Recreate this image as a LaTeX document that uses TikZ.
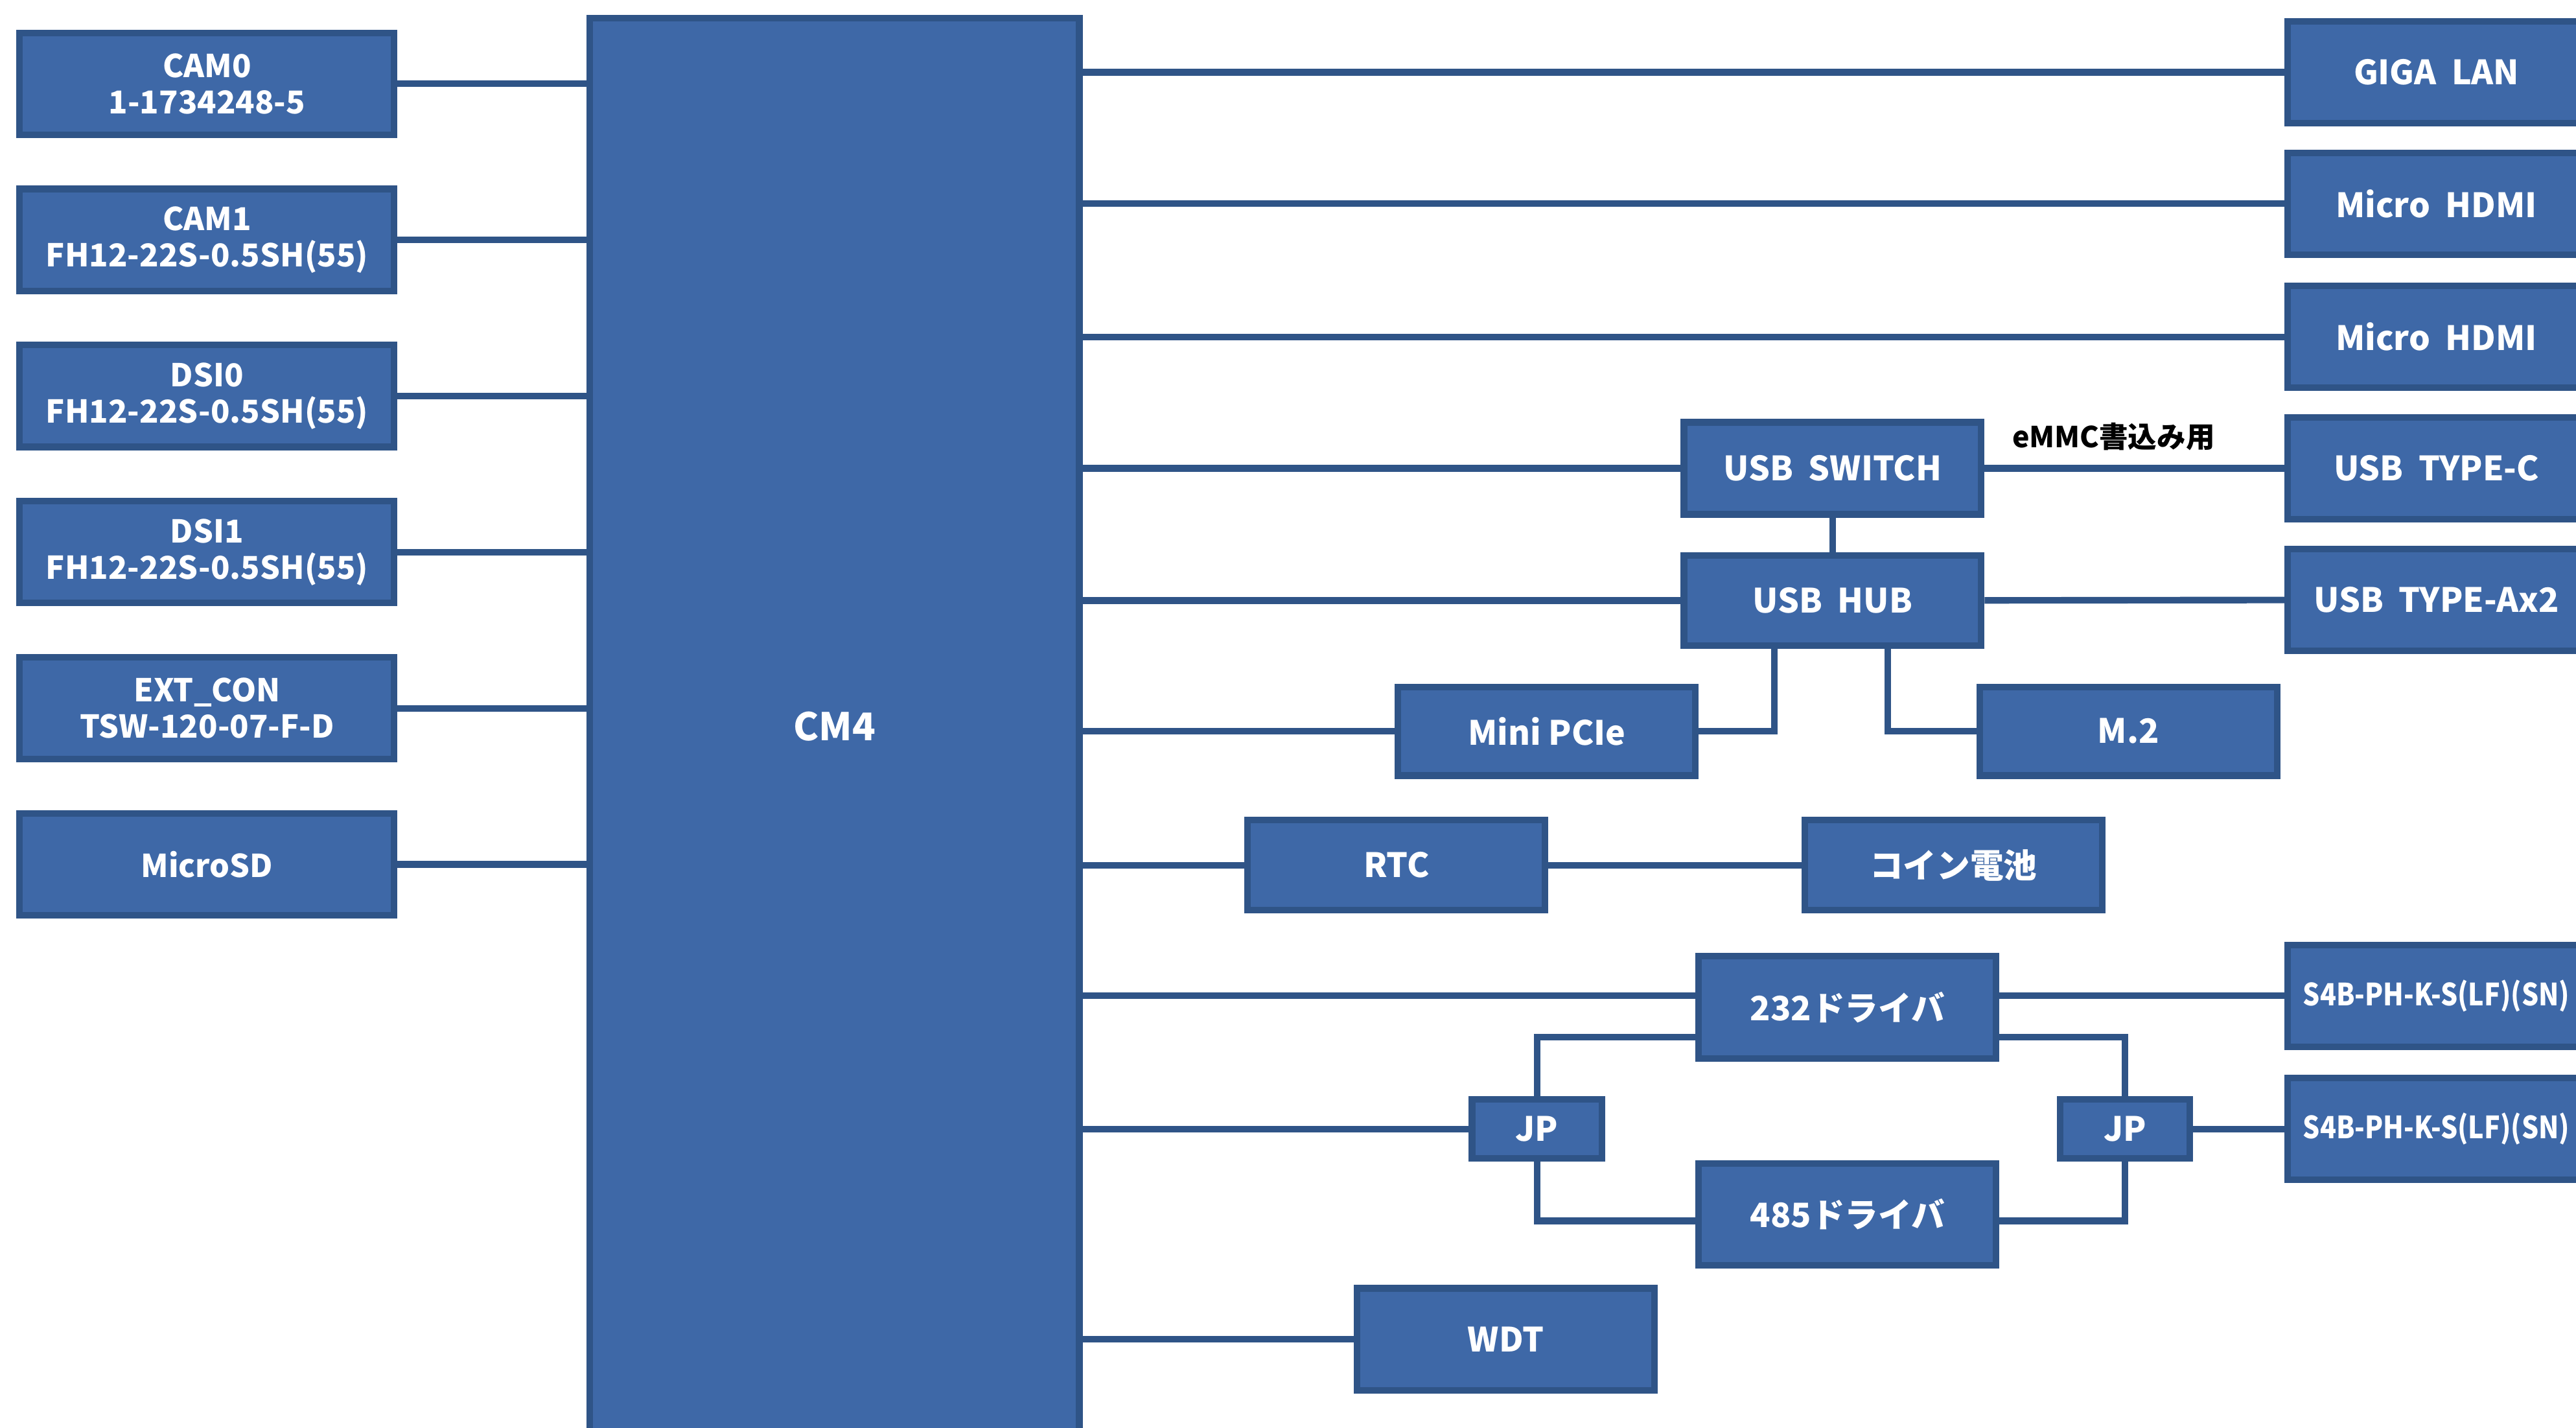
\documentclass[tikz,border=0pt]{standalone}
\usepackage{fontspec}
\setmainfont{Noto Sans CJK JP}

\definecolor{blkfill}{RGB}{62,104,167}
\definecolor{blkline}{RGB}{47,84,135}

\tikzset{
	blk/.style={draw=blkline,fill=blkfill,line width=0.4mm,text=white,
		font=\bfseries\fontsize{5.8}{7}\selectfont,align=center,inner sep=0pt,
		minimum width=18.1mm,minimum height=6.2mm},
	conn/.style={draw=blkline,fill=blkfill,line width=0.4mm,text=white,
		font=\bfseries\fontsize{5.45}{6.3}\selectfont,inner sep=0pt,
		minimum width=22.8mm,minimum height=6.2mm,align=center},
	wire/.style={draw=blkline,line width=0.4mm},
}
\newcommand{\narrow}[1]{\scalebox{0.87}[1]{#1}}

\begin{document}
\begin{tikzpicture}[x=0.1mm,y=-0.1mm]
	\useasboundingbox (0,0) rectangle (1568,869);

	% left connectors
	\node[conn] (cam0) at (126,51) {CAM0\\1-1734248-5};
	\node[conn] (cam1) at (126,146) {CAM1\\FH12-22S-0.5SH(55)};
	\node[conn] (dsi0) at (126,241) {DSI0\\FH12-22S-0.5SH(55)};
	\node[conn] (dsi1) at (126,336) {DSI1\\FH12-22S-0.5SH(55)};
	\node[conn] (extcon) at (126,431) {EXT\_CON\\TSW-120-07-F-D};
	\node[conn] (microsd) at (126,526) {MicroSD};

	% module
	\node[blk,minimum width=29.8mm,minimum height=86.2mm,font=\bfseries\fontsize{6.6}{8}\selectfont] (cm4) at (508,442) {CM4};

	% right column
	\node[blk] (giga) at (1483,44) {GIGA~~LAN};
	\node[blk] (hdmia) at (1483,124) {Micro~~HDMI};
	\node[blk] (hdmib) at (1483,205) {Micro~~HDMI};
	\node[blk] (typec) at (1483,285) {USB~~TYPE-C};
	\node[blk] (typea) at (1483,365) {USB~~TYPE-Ax2};
	\node[blk,font=\bfseries\fontsize{5.3}{6}\selectfont] (s4ba) at (1483,606) {\narrow{S4B-PH-K-S(LF)(SN)}};
	\node[blk,font=\bfseries\fontsize{5.3}{6}\selectfont] (s4bb) at (1483,687) {\narrow{S4B-PH-K-S(LF)(SN)}};

	% usb
	\node[blk,minimum height=5.6mm] (usbsw) at (1115.5,285) {USB~~SWITCH};
	\node[blk,minimum height=5.5mm] (usbhub) at (1115.5,365.5) {USB~~HUB};
	\node[blk,minimum height=5.4mm] (minipcie) at (941.5,445) {Mini PCIe};
	\node[blk,minimum height=5.4mm] (mdot2) at (1295.5,445) {M.2};

	\node[blk,minimum height=5.5mm] (rtc) at (850,526.5) {RTC};
	\node[blk,minimum height=5.5mm] (coin) at (1189,526.5) {コイン電池};

	% serial
	\node[blk] (drva) at (1124.5,613) {232ドライバ};
	\node[blk] (drvb) at (1124.5,739) {485ドライバ};
	\node[blk,minimum width=7.9mm,minimum height=3.6mm] (jpl) at (935.5,687) {JP};
	\node[blk,minimum width=7.9mm,minimum height=3.6mm] (jpr) at (1293.5,687) {JP};

	\node[blk] (wdt) at (916.5,815) {WDT};

	% left wires
	\foreach \n in {cam0,cam1,dsi0,dsi1,extcon,microsd}
		\draw[wire] (\n.east) -- (\n.east -| cm4.west);

	% right wires
	\foreach \n in {giga,hdmia,hdmib,usbsw,usbhub,minipcie,rtc,jpl,wdt}
		\draw[wire] (cm4.east |- \n.west) -- (\n.west);
	\draw[wire] (cm4.east |- s4ba.west) -- (drva.west |- s4ba.west);
	\draw[wire] (drva.east |- s4ba.west) -- (s4ba.west);

	\draw[wire] (usbsw) -- node[pos=0.43,above=0.9mm,inner sep=0pt,text=black,font=\bfseries\fontsize{5}{6}\selectfont] (emmc) {eMMC書込み用} (typec);
	\draw[wire] (usbsw) -- (usbhub);
	\draw[wire] (usbhub) -- (typea);
	\draw[wire] ([xshift=-3.55mm]usbhub.south) |- (minipcie.east);
	\draw[wire] ([xshift=3.35mm]usbhub.south) |- (mdot2.west);
	\draw[wire] (rtc) -- (coin);

	\draw[wire] ([yshift=-1.8mm]drva.west) -| (jpl.north);
	\draw[wire] ([yshift=-1.8mm]drva.east) -| (jpr.north);
	\draw[wire] (jpl.south) |- ([yshift=-0.4mm]drvb.west);
	\draw[wire] (jpr.south) |- ([yshift=-0.4mm]drvb.east);
	\draw[wire] (jpr) -- (s4bb);
\end{tikzpicture}
\end{document}
